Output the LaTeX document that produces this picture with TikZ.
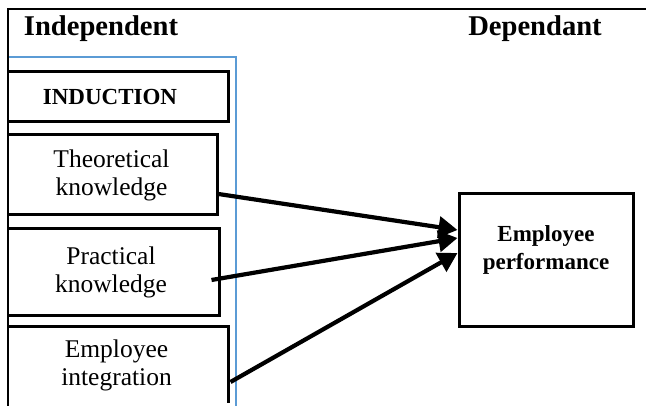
\documentclass[tikz,border=0pt]{standalone}
\usepackage{fontspec}
\setmainfont{Liberation Serif}
\usepackage{tikz}
\usetikzlibrary{arrows.meta,positioning}
\definecolor{cellblue}{RGB}{91,155,213}
\tikzset{
  varbox/.style={draw,line width=3pt,inner sep=0pt,align=center,
    font=\fontsize{25.5}{28}\selectfont},
  headbox/.style={draw,line width=3pt,inner sep=0pt,
    font=\fontsize{23}{28}\selectfont\bfseries},
  boldtext/.style={inner sep=0pt,align=center,font=\fontsize{23}{28}\selectfont\bfseries},
  heading/.style={inner sep=0pt,font=\fontsize{28.6}{32}\selectfont\bfseries},
  link/.style={line width=4.2pt,-{Triangle[length=19pt,width=21pt]}}
}
\begin{document}
\begin{tikzpicture}[x=1pt,y=1pt]
\useasboundingbox (0,0) rectangle (646,405);
\clip (0,0) rectangle (646,405);
\node[heading,anchor=base] (indep) at (101,369) {Independent};
\node[heading,anchor=base] (dep) at (535,369) {Dependant};
% blue frame of the left cell
\draw[cellblue,line width=2.3pt] (8,348) -- (236,348) -- (236,-5);
\begin{scope}
\clip (8,3) rectangle (646,405);
\node[headbox,minimum width=236pt,minimum height=50pt] (induc) at (110,308) {INDUCTION};
\node[varbox,minimum width=211pt,minimum height=80pt] (theo) at (111.5,230) {Theoretical\\knowledge};
\node[varbox,minimum width=216pt,minimum height=86pt] (prac) at (111,133) {Practical\\knowledge};
\node[varbox,minimum width=223pt,minimum height=78pt] (integ) at (116.5,40) {Employee\\integration};
\end{scope}
% outer frame
\draw[line width=1.4pt] (646,396) -- (8,396) -- (8,-5);
\node[draw,line width=3pt,minimum width=174pt,minimum height=132pt] (perf) at (546,145) {};
\node[boldtext,below=32.5pt of perf.north] (perftext) {Employee\\performance};
\draw[link] ([yshift=-19pt]theo.east) -- ([yshift=30pt]perf.west);
\draw[link] ([xshift=-9pt,yshift=-8pt]prac.east) -- ([yshift=22pt]perf.west);
\draw[link] ([xshift=1pt,yshift=-17pt]integ.east) -- ([yshift=7pt]perf.west);
\end{tikzpicture}
\end{document}
